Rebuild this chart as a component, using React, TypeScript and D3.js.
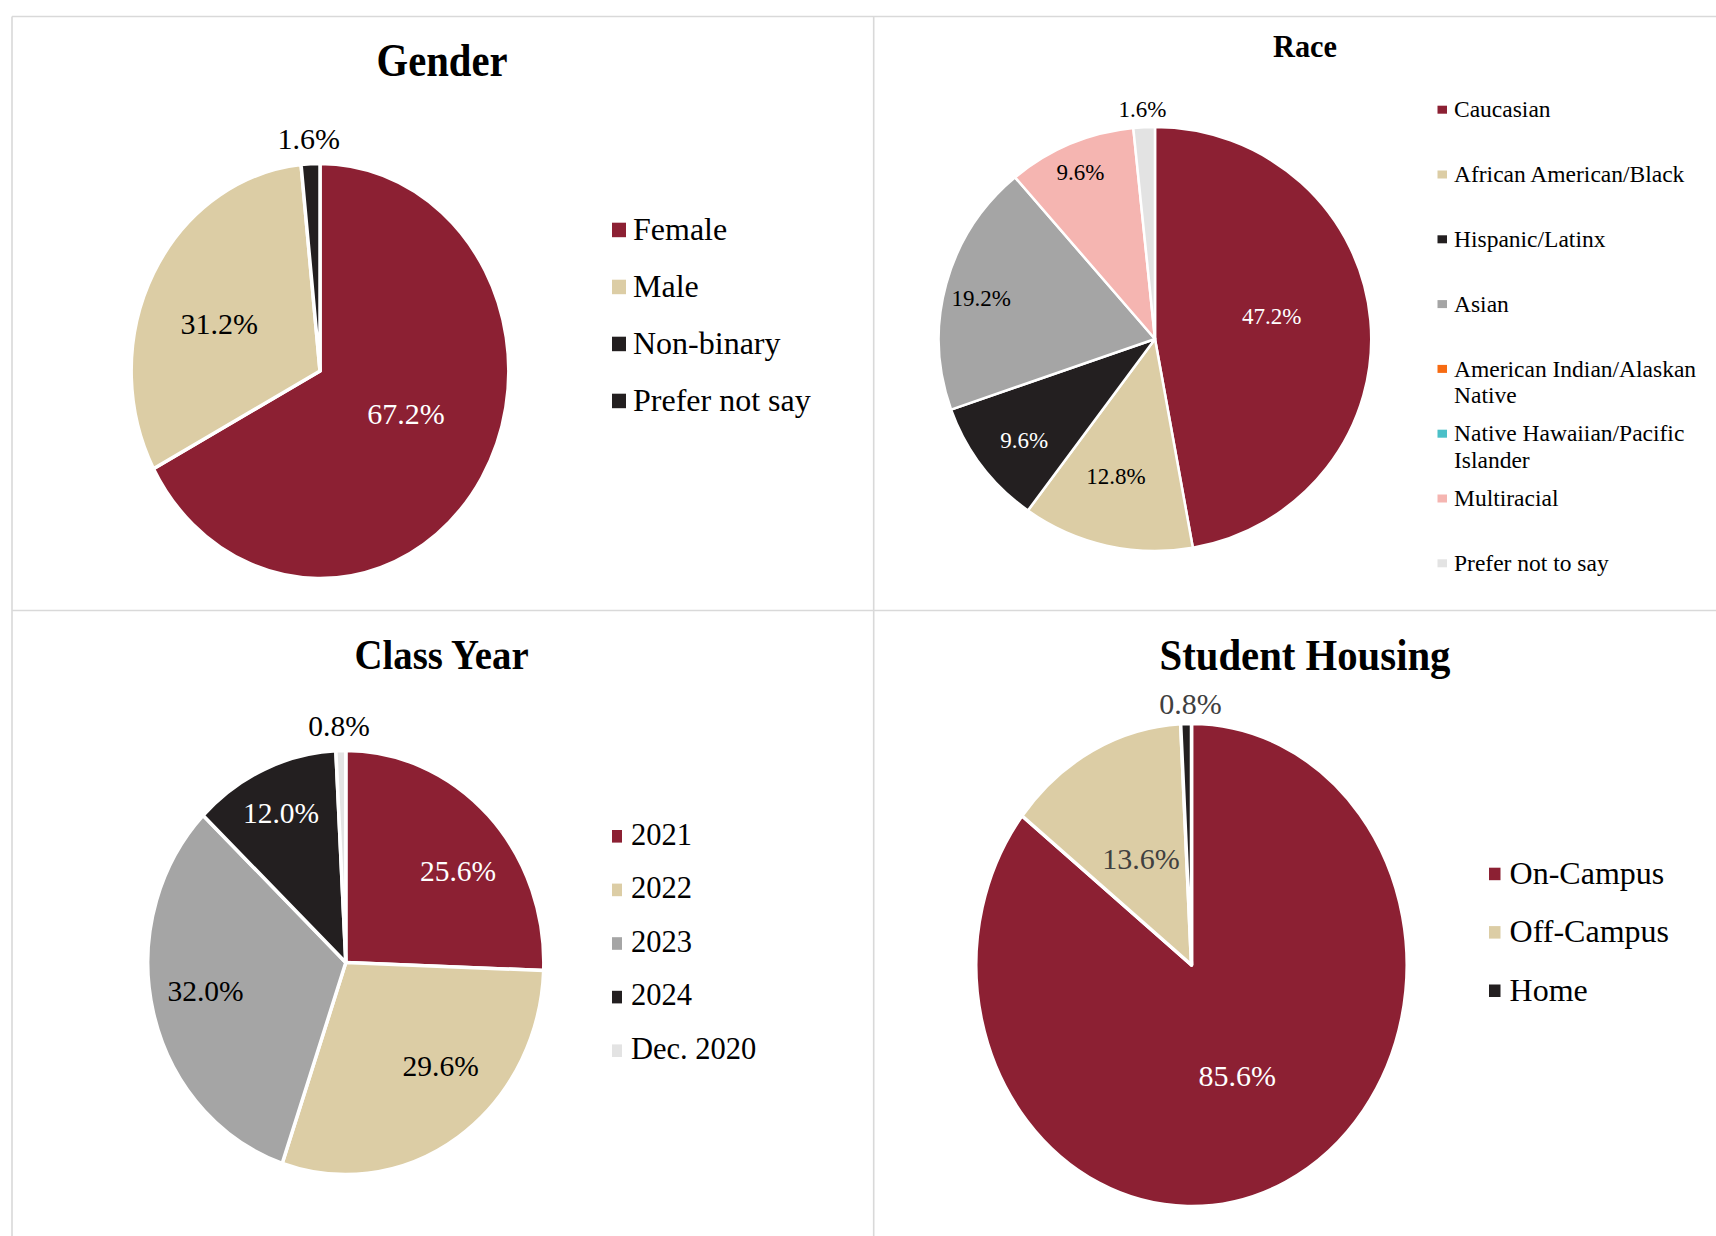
import React from 'react';
import * as d3 from 'd3';

// colours used across the four pies
const MAROON = '#8c2033';
const TAN = '#dccda5';
const DARK = '#231f20';
const GREY = '#a5a5a5';
const PINK = '#f5b5b1';
const LIGHT = '#e3e3e3';
const ORANGE = '#f76b12';
const TEAL = '#4bc0c8';

const genderLabels = ['Female', 'Male', 'Non-binary', 'Prefer not say'];
const genderValues = [67.2, 31.2, 1.6, 0];
const genderColors = [MAROON, TAN, DARK, DARK];

const raceLabels = [
  'Caucasian',
  'African American/Black',
  'Hispanic/Latinx',
  'Asian',
  'American Indian/Alaskan Native',
  'Native Hawaiian/Pacific Islander',
  'Multiracial',
  'Prefer not to say',
];
const raceValues = [47.2, 12.8, 9.6, 19.2, 0, 0, 9.6, 1.6];
const raceColors = [MAROON, TAN, DARK, GREY, ORANGE, TEAL, PINK, LIGHT];

const classLabels = ['2021', '2022', '2023', '2024', 'Dec. 2020'];
const classValues = [25.6, 29.6, 32.0, 12.0, 0.8];
const classColors = [MAROON, TAN, GREY, DARK, LIGHT];

const housingLabels = ['On-Campus', 'Off-Campus', 'Home'];
const housingValues = [85.6, 13.6, 0.8];
const housingColors = [MAROON, TAN, DARK];

const FONT = '"Liberation Serif", "Times New Roman", Times, serif';
const fmt = (v: number) => d3.format('.1f')(v) + '%';
const darkFill = (c: string) => c === MAROON || c === DARK;

function wrap(text: string, maxChars: number) {
  const words = text.split(' ');
  const lines: string[] = [];
  let cur = '';
  words.forEach(w => {
    const next = cur ? cur + ' ' + w : w;
    if (next.length > maxChars && cur) {
      lines.push(cur);
      cur = w;
    } else cur = next;
  });
  if (cur) lines.push(cur);
  return lines;
}

// layout of each panel: pie placement, label radius (fraction of r) and
// angle nudge (degrees) per slice, legend placement
const panels = [
  {
    title: 'Gender', titleX: 442, titleY: 76, titleSize: 46, titleLen: 131,
    labels: genderLabels, values: genderValues, colors: genderColors,
    cx: 320, cy: 371, r: 207.5, k: 0.91, stroke: 3.5,
    labelR: [0.5, 0.58, 1.12, 1.1], labelA: [-6.5, -4.9, -0.2, 0],
    labelSize: 30, textColor: '#000',
    legX: 612, legTextX: 633, legY: 240, legStep: 57, legSize: 32,
    sqW: 14, sqH: 14.5, sqTop: 17.3, wrapAt: 40, lineH: 0,
  },
  {
    title: 'Race', titleX: 1305, titleY: 56.5, titleSize: 31, titleLen: 64,
    labels: raceLabels, values: raceValues, colors: raceColors,
    cx: 1155, cy: 339, r: 212, k: 1.02, stroke: 2.5,
    labelR: [0.55, 0.671, 0.77, 0.826, 1, 1, 0.86, 1.085],
    labelA: [-6.2, 2.6, -1.5, -1.8, 0, 0, -0.6, -0.2],
    labelSize: 23, textColor: '#000',
    legX: 1437.5, legTextX: 1454, legY: 117.4, legStep: 64.8, legSize: 23.5,
    sqW: 9.5, sqH: 8, sqTop: 11.7, wrapAt: 24, lineH: 26.5,
  },
  {
    title: 'Class Year', titleX: 441.6, titleY: 669, titleSize: 43, titleLen: 174,
    labels: classLabels, values: classValues, colors: classColors,
    cx: 345.8, cy: 962.5, r: 212, k: 0.934, stroke: 3.5,
    labelR: [0.714, 0.685, 0.721, 0.777, 1.116], labelA: [6.5, -9.8, 2.9, -0.4, -0.3],
    labelSize: 29.5, textColor: '#000',
    legX: 612, legTextX: 631, legY: 844.6, legStep: 53.6, legSize: 30.5,
    sqW: 10, sqH: 12.6, sqTop: 14.6, wrapAt: 40, lineH: 0,
  },
  {
    title: 'Student Housing', titleX: 1305, titleY: 669.8, titleSize: 44, titleLen: 291,
    labels: housingLabels, values: housingValues, colors: housingColors,
    cx: 1191.5, cy: 965, r: 241.5, k: 0.893, stroke: 3.5,
    labelR: [0.507, 0.497, 1.083], labelA: [1.2, -0.8, 1.2],
    labelSize: 30, textColor: '#404040',
    legX: 1489, legTextX: 1509.6, legY: 884, legStep: 58.4, legSize: 32,
    sqW: 11.5, sqH: 12.5, sqTop: 16.3, wrapAt: 40, lineH: 0,
  },
];

type Panel = typeof panels[number];

function PiePanel({ p }: { p: Panel }) {
  const pie = d3.pie<number>().sort(null).value(d => d);
  const arcs = pie(p.values);
  const arc = d3.arc<d3.PieArcDatum<number>>().innerRadius(0).outerRadius(p.r);

  return (
    <g>
      <text
        x={p.titleX}
        y={p.titleY}
        textAnchor="middle"
        fontFamily={FONT}
        fontWeight="bold"
        fontSize={p.titleSize}
        textLength={p.titleLen}
        lengthAdjust="spacingAndGlyphs"
      >
        {p.title}
      </text>

      <g transform={`translate(${p.cx},${p.cy}) scale(${p.k},1)`}>
        {arcs.map((a, i) =>
          a.value > 0 ? (
            <path
              key={i}
              d={arc(a) || ''}
              fill={p.colors[i]}
              stroke="#fff"
              strokeWidth={p.stroke}
              strokeLinejoin="round"
              vectorEffect="non-scaling-stroke"
            />
          ) : null
        )}
      </g>

      {arcs.map((a, i) => {
        if (a.value <= 0) return null;
        const mid = (a.startAngle + a.endAngle) / 2 + (p.labelA[i] * Math.PI) / 180;
        const f = p.labelR[i];
        const x = p.cx + p.k * p.r * f * Math.sin(mid);
        const y = p.cy - p.r * f * Math.cos(mid);
        const inside = f < 1;
        const fill = inside && darkFill(p.colors[i]) ? '#fff' : p.textColor;
        return (
          <text
            key={i}
            x={x}
            y={y}
            dy="0.34em"
            textAnchor="middle"
            fontFamily={FONT}
            fontSize={p.labelSize}
            fill={fill}
          >
            {fmt(a.value)}
          </text>
        );
      })}

      {p.labels.map((lab, i) => {
        const base = p.legY + i * p.legStep;
        const lines = wrap(lab, p.wrapAt);
        return (
          <g key={lab}>
            <rect x={p.legX} y={base - p.sqTop} width={p.sqW} height={p.sqH} fill={p.colors[i]} />
            <text fontFamily={FONT} fontSize={p.legSize} fill="#000">
              {lines.map((ln, j) => (
                <tspan key={j} x={p.legTextX} y={base + j * p.lineH}>
                  {ln}
                </tspan>
              ))}
            </text>
          </g>
        );
      })}
    </g>
  );
}

export default function App() {
  const W = 1716;
  const H = 1236;
  const border = '#d9d9d9';
  return (
    <div style={{ position: 'absolute', left: 0, top: 0, background: '#fff' }}>
      <svg width={W} height={H} viewBox={`0 0 ${W} ${H}`} style={{ display: 'block' }}>
        <rect width={W} height={H} fill="#fff" />
        <g stroke={border} strokeWidth={1.6} fill="none">
          <line x1={12} y1={16.5} x2={W} y2={16.5} />
          <line x1={12} y1={16.5} x2={12} y2={H} />
          <line x1={873.7} y1={16.5} x2={873.7} y2={H} />
          <line x1={12} y1={610.5} x2={W} y2={610.5} />
        </g>
        {panels.map(p => (
          <PiePanel key={p.title} p={p} />
        ))}
      </svg>
    </div>
  );
}
